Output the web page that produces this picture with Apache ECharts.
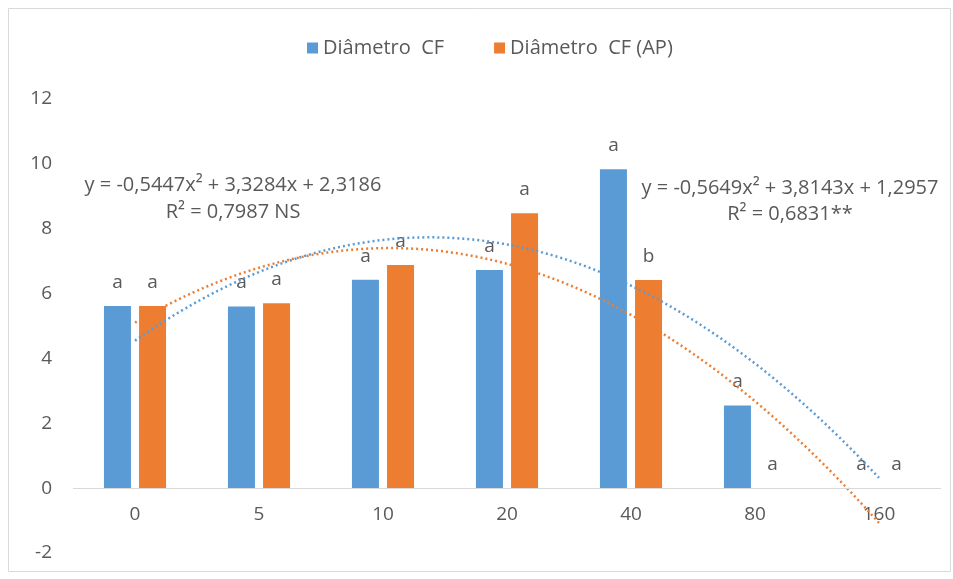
<!DOCTYPE html>
<html>
<head>
<meta charset="utf-8">
<title>Diâmetro CF</title>
<script src="https://cdn.jsdelivr.net/npm/echarts@6/dist/echarts.min.js"></script>
<style>
  html, body { margin: 0; padding: 0; background: #ffffff; }
  #chart { width: 953px; height: 579px; }
</style>
</head>
<body>
<div id="chart"></div>
<script>
// Doses (category axis)
const categories = ['0', '5', '10', '20', '40', '80', '160'];

// Diâmetro CF
const diametroCF = [5.62, 5.60, 6.43, 6.73, 9.83, 2.55, 0];
const lettersCF = ['a', 'a', 'a', 'a', 'a', 'a', 'a'];

// Diâmetro CF (AP)
const diametroAP = [5.62, 5.70, 6.88, 8.48, 6.42, 0, 0];
const lettersAP = ['a', 'a', 'a', 'a', 'b', 'a', 'a'];

// Polynomial trendline coefficients [a, b, c] for y = a x² + b x + c, x = category index 1..7
const trendCF = [-0.5649, 3.8143, 1.2957];
const trendAP = [-0.5447, 3.3284, 2.3186];

const yTicks = { min: -2, max: 12, interval: 2 };

const BLUE = '#5B9BD5';
const ORANGE = '#ED7D31';
const TEXT = '#595959';
const FONT = '"Open Sans", "Noto Sans", sans-serif';
const FS = 19;

function trendPoints(coef) {
  const pts = [];
  for (let i = 0; i <= 120; i++) {
    const x = 1 + i * 6 / 120;
    pts.push([x, coef[0] * x * x + coef[1] * x + coef[2]]);
  }
  return pts;
}

function barData(values, letters) {
  return values.map((v, i) => ({ value: v, label: { formatter: letters[i] } }));
}

const chart = echarts.init(document.getElementById('chart'), null, { renderer: 'canvas' });

const barLabel = { show: true, position: 'top', distance: 14, color: TEXT, fontSize: FS, fontFamily: FONT };

chart.setOption({
  backgroundColor: '#ffffff',
  animation: false,
  textStyle: { fontFamily: FONT },
  legend: {
    top: 33,
    left: 302,
    itemWidth: 11,
    itemHeight: 11,
    itemGap: 50,
    icon: 'rect',
    textStyle: { color: TEXT, fontSize: 20, fontFamily: FONT },
    data: ['Diâmetro  CF', 'Diâmetro  CF (AP)']
  },
  grid: { left: 73, right: 12, top: 99, bottom: 26, containLabel: false, outerBoundsMode: 'none' },
  xAxis: [
    {
      type: 'category',
      data: categories,
      axisLine: { show: false, onZero: false },
      axisTick: { show: false },
      axisLabel: { color: TEXT, fontSize: FS, margin: -48, fontFamily: FONT },
      splitLine: { show: false }
    },
    {
      type: 'value',
      min: 0.5,
      max: 7.5,
      show: false
    }
  ],
  yAxis: {
    type: 'value',
    min: yTicks.min,
    max: yTicks.max,
    interval: yTicks.interval,
    axisLine: { show: false },
    axisTick: { show: false },
    splitLine: { show: false },
    axisLabel: { color: TEXT, fontSize: FS, margin: 21, fontFamily: FONT }
  },
  series: [
    {
      name: 'Diâmetro  CF',
      type: 'bar',
      xAxisIndex: 0,
      barWidth: 27,
      barGap: '30%',
      itemStyle: { color: BLUE },
      label: barLabel,
      data: barData(diametroCF, lettersCF),
      markLine: {
        silent: true,
        symbol: 'none',
        label: { show: false },
        lineStyle: { color: '#D9D9D9', width: 1, type: 'solid' },
        data: [{ yAxis: 0 }]
      },
      z: 2
    },
    {
      name: 'Diâmetro  CF (AP)',
      type: 'bar',
      xAxisIndex: 0,
      barWidth: 27,
      barGap: '30%',
      itemStyle: { color: ORANGE },
      label: barLabel,
      data: barData(diametroAP, lettersAP),
      z: 2
    },
    {
      name: 'trend CF',
      type: 'line',
      xAxisIndex: 1,
      showSymbol: false,
      symbol: 'none',
      silent: true,
      lineStyle: { color: BLUE, width: 2.5, type: [2, 3] },
      data: trendPoints(trendCF),
      z: 3
    },
    {
      name: 'trend AP',
      type: 'line',
      xAxisIndex: 1,
      showSymbol: false,
      symbol: 'none',
      silent: true,
      lineStyle: { color: ORANGE, width: 2.5, type: [2, 3] },
      data: trendPoints(trendAP),
      z: 3
    }
  ],
  graphic: [
    {
      type: 'rect',
      shape: { x: 8.5, y: 8.5, width: 942, height: 563 },
      style: { fill: 'none', stroke: '#D9D9D9', lineWidth: 1 },
      silent: true,
      z: -1
    },
    {
      type: 'text',
      x: 233, y: 199,
      style: {
        text: 'y = -0,5447x² + 3,3284x + 2,3186\nR² = 0,7987 NS',
        fill: TEXT, font: '20px ' + FONT, align: 'center', verticalAlign: 'middle', lineHeight: 27
      },
      z: 5
    },
    {
      type: 'text',
      x: 790, y: 201,
      style: {
        text: 'y = -0,5649x² + 3,8143x + 1,2957\nR² = 0,6831**',
        fill: TEXT, font: '20px ' + FONT, align: 'center', verticalAlign: 'middle', lineHeight: 26
      },
      z: 5
    }
  ]
});
</script>
</body>
</html>
